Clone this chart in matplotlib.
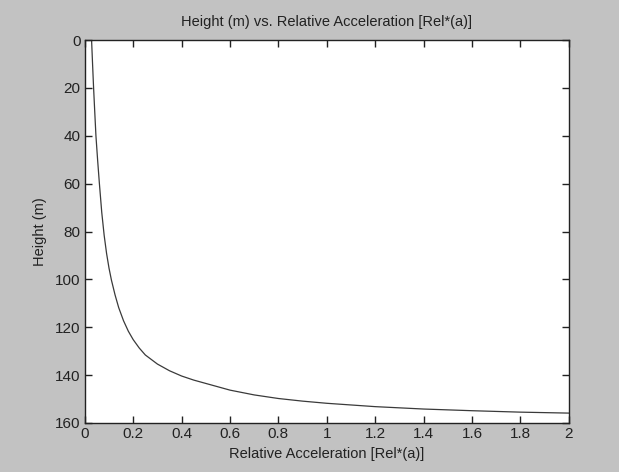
import matplotlib
matplotlib.use("Agg")
import matplotlib.pyplot as plt

# Data
rel_accel = [0.028, 0.032, 0.036, 0.041, 0.046, 0.053, 0.060, 0.070, 0.080, 0.090, 0.100,
             0.110, 0.125, 0.140, 0.160, 0.180, 0.200, 0.225, 0.250, 0.300, 0.350, 0.400,
             0.450, 0.500, 0.600, 0.700, 0.800, 0.900, 1.000, 1.200, 1.400, 1.600, 1.800, 2.000]
height = [0.0, 9.8, 19.3, 29.8, 40.0, 50.2, 59.6, 72.0, 81.6, 89.2, 95.3,
          100.3, 106.5, 111.8, 117.3, 121.7, 125.2, 128.7, 131.6, 135.4, 138.2, 140.4,
          142.1, 143.5, 146.3, 148.3, 149.8, 150.9, 151.8, 153.2, 154.2, 154.9, 155.5, 155.9]
x_ticks = [0, 0.2, 0.4, 0.6, 0.8, 1, 1.2, 1.4, 1.6, 1.8, 2]
x_tick_labels = ["0", "0.2", "0.4", "0.6", "0.8", "1", "1.2", "1.4", "1.6", "1.8", "2"]
y_ticks = [0, 20, 40, 60, 80, 100, 120, 140, 160]

plt.rcParams['font.family'] = ['Liberation Sans', 'DejaVu Sans']

fig = plt.figure(figsize=(6.19, 4.72), dpi=100)
fig.patch.set_facecolor('#c2c2c2')
ax = fig.add_axes([0.137, 0.104, 0.782, 0.811])
ax.set_facecolor('white')
ax.plot(rel_accel, height, color='#3a3a3a', lw=0.9)
ax.set_xlim(0, 2)
ax.set_ylim(160, 0)
ax.set_xticks(x_ticks)
ax.set_xticklabels(x_tick_labels)
ax.set_yticks(y_ticks)
ax.tick_params(direction='in', top=True, right=True, length=5, width=1,
               labelsize=11, color='#222222', labelcolor='#222222', pad=3)
for s in ax.spines.values():
    s.set_color('#222222')
    s.set_linewidth(1.0)
ax.set_title('Height (m) vs. Relative Acceleration [Rel*(a)]', fontsize=10.5, color='#222222', pad=10)
ax.set_xlabel('Relative Acceleration [Rel*(a)]', fontsize=10.5, color='#222222', labelpad=4)
ax.set_ylabel('Height (m)', fontsize=10.5, color='#222222', labelpad=6)

fig.savefig('out.png', dpi=100, facecolor=fig.get_facecolor())
